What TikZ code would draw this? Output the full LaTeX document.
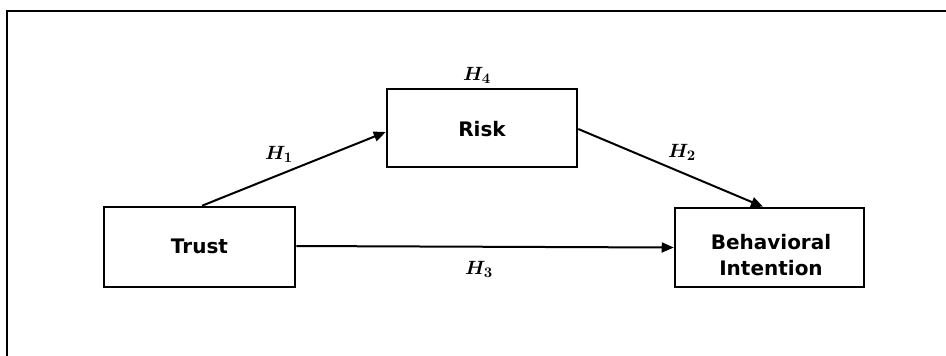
\documentclass[tikz,border=0pt]{standalone}
\usepackage{fontspec}
\setmainfont{DejaVu Sans}
\usepackage{bm}
\usetikzlibrary{arrows.meta,calc}
\tikzset{
  boxst/.style={draw=black, line width=1.9pt, rectangle, fill=white, inner sep=0pt},
  txt/.style={font=\bfseries\fontsize{15}{19}\selectfont, align=center, inner sep=0pt},
  conn/.style={line width=1.5pt, -{Triangle[length=9pt,width=7.5pt]}},
  hlab/.style={font=\fontsize{15}{16}\selectfont, inner sep=0pt},
  frame/.style={line width=1.9pt}
}
\begin{document}
\begin{tikzpicture}[x=0.75pt,y=-0.75pt]
\useasboundingbox (0,0) rectangle (946,355);
\coordinate (fl) at (7,357);
\coordinate (fc) at (7,11);
\coordinate (fr) at (948,11);
\draw[frame] (fl) -- (fc) -- (fr);

\node[boxst, minimum width=191*0.75pt, minimum height=80*0.75pt] (trust) at (199.5,247) {};
\node[txt] (trusttxt) at (199.5,246) {Trust};
\node[boxst, minimum width=190*0.75pt, minimum height=78*0.75pt] (risk) at (482,128) {};
\node[txt] (risktxt) at (482,129.5) {Risk};
\node[boxst, minimum width=189*0.75pt, minimum height=79*0.75pt] (bi) at (769.5,247.5) {};
\node[txt] (bitxt) at (771,255) {Behavioral\\Intention};

\draw[conn] ($(trust.north)+(2.5,0)$) -- ($(risk.west)+(0,4)$);
\draw[conn] ($(risk.east)+(0,1)$) -- ($(bi.north)+(-6.5,0)$);
\draw[conn] ($(trust.east)+(0,-1)$) -- (bi.west);

\node[hlab] (h4) at (477,75) {$\bm{H_4}$};
\node[hlab] (h1) at (279,154) {$\bm{H_1}$};
\node[hlab] (h2) at (682,152) {$\bm{H_2}$};
\node[hlab] (h3) at (479,269) {$\bm{H_3}$};
\end{tikzpicture}
\end{document}
